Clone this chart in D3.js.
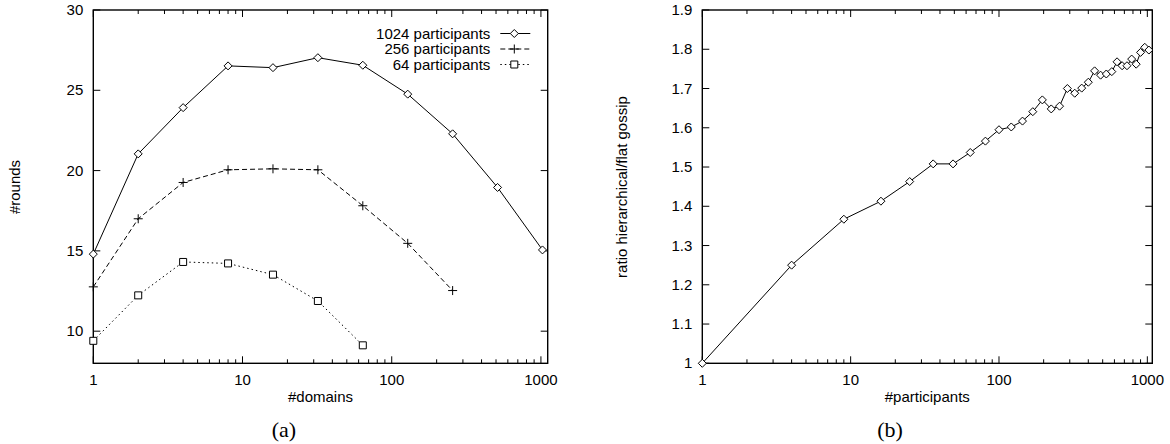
<!DOCTYPE html>
<html lang="en">
<head>
<meta charset="UTF-8">
<title>Hierarchical gossip</title>
<style>
body { margin: 0; background: #fff; }
svg text { font-family: "Liberation Sans", Arial, sans-serif; font-size: 15px; fill: #000; }
.caption { font-family: "Liberation Serif", "Times New Roman", serif; font-size: 22px; }
.frame { fill: none; stroke: #000; stroke-width: 1.4px; }
.tick { stroke: #000; stroke-width: 1px; }
.line { fill: none; stroke: #000; stroke-width: 1px; }
.mark { fill: #fff; stroke: #000; stroke-width: 1px; }
</style>
</head>
<body>
<script src="https://cdn.jsdelivr.net/npm/d3@7"></script>
<script>
// (a) rounds vs number of domains
var domains = [1, 2, 4, 8, 16, 32, 64, 128, 256, 512, 1024];
var rounds1024 = [14.8, 21.04, 23.92, 26.52, 26.41, 27.03, 26.56, 24.76, 22.29, 18.95, 15.06];
var rounds256 = [12.76, 17.0, 19.26, 20.05, 20.11, 20.05, 17.81, 15.47, 12.53];
var rounds64 = [9.4, 12.23, 14.31, 14.22, 13.52, 11.88, 9.12];
var seriesNames = ["1024 participants", "256 participants", "64 participants"];
var roundTicks = [10, 15, 20, 25, 30];

// (b) ratio hierarchical / flat vs participants
var participants = [1, 4, 9, 16, 25, 36, 49, 64, 81, 100, 121, 144, 169, 196, 225, 256,
    289, 324, 361, 400, 441, 484, 529, 576, 625, 676, 729, 784, 841, 900, 961, 1024];
var ratio = [1.0, 1.25, 1.367, 1.413, 1.463, 1.508, 1.508, 1.537, 1.566, 1.595, 1.602, 1.617,
    1.641, 1.671, 1.648, 1.655, 1.700, 1.688, 1.701, 1.716, 1.745, 1.734, 1.737, 1.743,
    1.768, 1.758, 1.758, 1.775, 1.762, 1.792, 1.805, 1.798];
var ratioTicks = [1, 1.1, 1.2, 1.3, 1.4, 1.5, 1.6, 1.7, 1.8, 1.9];
var logTicks = [1, 10, 100, 1000];

var svg = d3.select("body").append("svg")
    .attr("width", 1170)
    .attr("height", 444);

var diamond = "M0,-4L4,0L0,4L-4,0Z";
var plus = "M-4.5,0H4.5M0,-4.5V4.5";
var square = "M-3.5,-3.5H3.5V3.5H-3.5Z";

function minorTicks(maxVal) {
    var out = [];
    for (var dec = 1; dec <= 1000; dec *= 10) {
        for (var k = 2; k <= 9; k++) {
            if (k * dec <= maxVal) out.push(k * dec);
        }
    }
    return out;
}

function frame(g, x, y, yTicks, yFmt, w, h) {
    // ticks drawn inward on all four sides
    var minors = minorTicks(x.domain()[1]);
    logTicks.forEach(function(t) {
        g.append("line").attr("class", "tick").attr("x1", x(t)).attr("x2", x(t)).attr("y1", h).attr("y2", h - 7);
        g.append("line").attr("class", "tick").attr("x1", x(t)).attr("x2", x(t)).attr("y1", 0).attr("y2", 7);
        g.append("text").attr("x", x(t)).attr("y", h + 22).attr("text-anchor", "middle").text(t);
    });
    minors.forEach(function(t) {
        g.append("line").attr("class", "tick").attr("x1", x(t)).attr("x2", x(t)).attr("y1", h).attr("y2", h - 4);
        g.append("line").attr("class", "tick").attr("x1", x(t)).attr("x2", x(t)).attr("y1", 0).attr("y2", 4);
    });
    yTicks.forEach(function(t) {
        g.append("line").attr("class", "tick").attr("x1", 0).attr("x2", 7).attr("y1", y(t)).attr("y2", y(t));
        g.append("line").attr("class", "tick").attr("x1", w).attr("x2", w - 7).attr("y1", y(t)).attr("y2", y(t));
        g.append("text").attr("x", -10).attr("y", y(t) + 5).attr("text-anchor", "end").text(yFmt(t));
    });
    g.append("rect").attr("class", "frame").attr("width", w).attr("height", h);
}

// ---- panel (a)
var ax = { left: 93.3, top: 10, width: 454.4, height: 353.3 };
var xa = d3.scaleLog().domain([1, 1110]).range([0, ax.width]);
var ya = d3.scaleLinear().domain([8, 30]).range([ax.height, 0]);
var ga = svg.append("g").attr("transform", "translate(" + ax.left + "," + ax.top + ")");

frame(ga, xa, ya, roundTicks, function(d) { return d; }, ax.width, ax.height);

var lineA = d3.line().x(function(d) { return xa(d[0]); }).y(function(d) { return ya(d[1]); });
var seriesA = [
    { name: seriesNames[0], vals: rounds1024, dash: null, shape: diamond },
    { name: seriesNames[1], vals: rounds256, dash: "5,3", shape: plus },
    { name: seriesNames[2], vals: rounds64, dash: "1.5,3", shape: square }
];

seriesA.forEach(function(s, i) {
    var pts = s.vals.map(function(v, j) { return [domains[j], v]; });
    ga.append("path").datum(pts).attr("class", "line")
        .attr("stroke-dasharray", s.dash).attr("d", lineA);
    ga.selectAll(".m" + i).data(pts).enter().append("path")
        .attr("class", "mark m" + i)
        .attr("fill", s.shape === plus ? "none" : "#fff")
        .attr("transform", function(d) { return "translate(" + xa(d[0]) + "," + ya(d[1]) + ")"; })
        .attr("d", s.shape);

    // key entry
    var ky = 23.5 + i * 15.5;
    ga.append("text").attr("x", 397).attr("y", ky + 5).attr("text-anchor", "end").text(s.name);
    ga.append("line").attr("class", "line").attr("stroke-dasharray", s.dash)
        .attr("x1", 407).attr("x2", 437).attr("y1", ky).attr("y2", ky);
    ga.append("path").attr("class", "mark")
        .attr("fill", s.shape === plus ? "none" : "#fff")
        .attr("transform", "translate(" + 421 + "," + ky + ")")
        .attr("d", s.shape);
});

svg.append("text").attr("x", ax.left + ax.width / 2).attr("y", 402)
    .attr("text-anchor", "middle").text("#domains");
svg.append("text").attr("transform", "translate(20,187) rotate(-90)")
    .attr("text-anchor", "middle").text("#rounds");
svg.append("text").attr("class", "caption").attr("x", 284).attr("y", 437)
    .attr("text-anchor", "middle").text("(a)");

// ---- panel (b)
var bx = { left: 702.3, top: 10, width: 450, height: 353.3 };
var xb = d3.scaleLog().domain([1, 1080]).range([0, bx.width]);
var yb = d3.scaleLinear().domain([1, 1.9]).range([bx.height, 0]);
var gb = svg.append("g").attr("transform", "translate(" + bx.left + "," + bx.top + ")");

frame(gb, xb, yb, ratioTicks, function(d) { return d === 1 ? "1" : d3.format(".1f")(d); }, bx.width, bx.height);

var ptsB = participants.map(function(p, j) { return [p, ratio[j]]; });
gb.append("path").datum(ptsB).attr("class", "line")
    .attr("d", d3.line().x(function(d) { return xb(d[0]); }).y(function(d) { return yb(d[1]); }));
gb.selectAll(".mb").data(ptsB).enter().append("path")
    .attr("class", "mark mb")
    .attr("transform", function(d) { return "translate(" + xb(d[0]) + "," + yb(d[1]) + ")"; })
    .attr("d", diamond);

svg.append("text").attr("x", bx.left + bx.width / 2).attr("y", 402)
    .attr("text-anchor", "middle").text("#participants");
svg.append("text").attr("transform", "translate(627,187) rotate(-90)")
    .attr("text-anchor", "middle").text("ratio hierarchical/flat gossip");
svg.append("text").attr("class", "caption").attr("x", 890).attr("y", 437)
    .attr("text-anchor", "middle").text("(b)");
</script>
</body>
</html>
